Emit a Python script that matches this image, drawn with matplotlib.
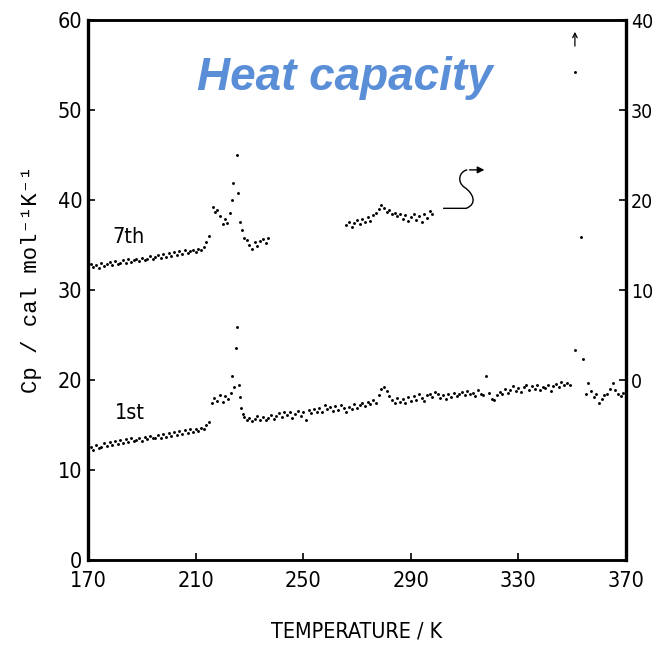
import numpy as np
import matplotlib
matplotlib.use("Agg")
import matplotlib.pyplot as plt
from matplotlib import font_manager as fm
from matplotlib.path import Path
from matplotlib.patches import PathPatch

# ---- data ----
# 1st run (left axis)
t1_low = np.arange(170, 216)
cp1_low = [12.0, 12.5, 12.2, 12.8, 12.4, 12.6, 13.0, 12.7, 13.1, 12.8,
           13.2, 12.9, 13.3, 13.0, 13.4, 13.1, 13.5, 13.2, 13.3, 13.6,
           13.2, 13.7, 13.4, 13.8, 13.5, 13.6, 13.9, 13.6, 14.0, 13.7,
           14.1, 13.8, 14.2, 13.9, 14.3, 14.0, 14.4, 14.1, 14.5, 14.2,
           14.6, 14.3, 14.7, 14.5, 15.0, 15.3]
t1_peak = [216, 217, 218, 219, 220, 221, 222, 223, 223.5, 224.2,
           225, 225.4, 226, 226.5, 227, 227.6]
cp1_peak = [17.5, 18.0, 17.7, 18.3, 17.6, 18.2, 17.9, 18.6, 20.5, 19.2,
            23.6, 25.9, 19.4, 18.1, 16.9, 16.2]
t1_high = np.arange(228, 350)
cp1_high = [15.9, 15.5, 15.8, 15.4, 15.7, 16.0, 15.6, 15.9, 15.5, 15.8, 16.1, 15.7, 16.0,
            16.3, 15.9, 16.4, 16.1, 16.5, 15.8, 16.2, 16.6, 16.0, 16.4, 15.6, 16.7, 16.3, 16.8, 16.5,
            16.9, 16.5, 17.2, 16.8, 17.0, 16.6, 17.1, 16.7, 17.2, 16.9, 16.5, 17.0, 16.8, 17.3, 16.9,
            17.2, 17.5, 17.1, 17.6, 17.3, 17.8, 17.5, 18.3, 19.0,
            19.2, 18.8, 18.2, 17.8, 17.5, 18.0, 17.6, 17.9, 17.4, 18.1, 17.7,
            18.2, 17.8, 18.4, 18.0, 17.7, 18.3, 18.5, 18.1, 18.7, 18.4,
            18.0, 18.3, 17.9, 18.4, 18.1, 18.6, 18.2, 18.5, 18.7, 18.3,
            18.8, 18.4, 18.6, 18.2, 18.9, 18.5, 18.3, 20.4, 18.6, 17.9,
            17.8, 18.3, 18.7, 18.4, 19.0, 18.6, 18.9, 19.3, 18.8, 19.1, 18.7, 19.2, 19.4, 18.9, 19.3,
            19.0, 19.4, 18.9, 19.2, 19.1, 19.5, 18.8, 19.3, 19.6, 19.2, 19.8, 19.4, 19.7, 19.5]
t1_end = [351, 354, 355, 356, 357, 358, 359, 360, 361, 362, 363, 364,
          365, 366, 367, 368, 369, 370]
cp1_end = [23.3, 22.3, 18.5, 19.7, 18.8, 18.1, 18.4, 17.4, 17.9, 18.3,
           18.5, 19.0, 19.7, 18.9, 18.5, 18.2, 18.6, 18.8]

# 7th run (right axis)
t7_low = np.arange(170, 216)
cp7_low = [12.4, 12.9, 12.6, 12.8, 12.5, 13.0, 12.7, 12.9, 13.1, 12.8,
           13.2, 12.9, 13.0, 13.3, 13.0, 13.4, 13.1, 13.3, 13.5, 13.2,
           13.6, 13.3, 13.5, 13.8, 13.4, 13.7, 13.9, 13.6, 14.0, 13.7,
           14.1, 13.8, 14.2, 13.9, 14.3, 14.0, 14.4, 14.1, 14.3, 14.5,
           14.2, 14.6, 14.4, 14.8, 15.3, 16.0]
t7_peak = [216.5, 217.2, 218, 219, 220, 221, 221.8, 222.6, 223.5, 224,
           225.4, 225.8, 226.5, 227.3, 228, 229, 230, 231, 232, 233,
           234, 235, 236, 237]
cp7_peak = [19.2, 18.7, 18.9, 18.2, 17.3, 17.9, 17.5, 18.6, 20.0, 21.9,
            25.0, 20.8, 17.6, 16.7, 15.8, 15.6, 15.0, 14.6, 15.3, 14.9,
            15.5, 15.7, 15.2, 15.8]
t7_mid = np.arange(266, 299)
cp7_mid = [17.2, 17.6, 17.0, 17.5, 17.8, 17.3, 17.9, 17.6, 18.1, 17.7,
           18.3, 18.6, 19.0, 19.4, 19.1, 18.7, 18.9, 18.4, 18.6, 18.2,
           18.5, 17.9, 18.3, 17.7, 18.1, 18.4, 17.8, 18.2, 17.6, 18.5,
           18.0, 18.8, 18.4]
t7_stray = [351, 353.3]
cp7_stray = [34.2, 15.9]

xticks = [170, 210, 250, 290, 330, 370]
yticks_left = [0, 10, 20, 30, 40, 50, 60]
yticks_right = [0, 10, 20, 30, 40]


def narrow_font(size):
    # pick a condensed sans if the system has one, plotter labels are narrow
    files = fm.findSystemFonts()
    for key in ['LiberationSansNarrow-Regular', 'DejaVuSansCondensed.ttf']:
        for f in files:
            if f.endswith(key + '.ttf') or f.endswith(key):
                return fm.FontProperties(fname=f, size=size)
    return fm.FontProperties(family='Liberation Sans', size=size - 2)


mono = ['Liberation Mono', 'DejaVu Sans Mono']

fig = plt.figure(figsize=(6.54, 6.47), dpi=100)
ax = fig.add_axes([0.1346, 0.1345, 0.8226, 0.8345])
ax2 = ax.twinx()

t1 = np.concatenate([t1_low, t1_peak, t1_high, t1_end])
cp1 = np.concatenate([cp1_low, cp1_peak, cp1_high, cp1_end])
t7 = np.concatenate([t7_low, t7_peak, t7_mid, t7_stray])
cp7 = np.concatenate([cp7_low, cp7_peak, cp7_mid, cp7_stray])

ax.plot(t1, cp1, 'o', color='black', ms=2.1, mew=0)
ax2.plot(t7, cp7, 'o', color='black', ms=2.1, mew=0)

ax.set_xlim(170, 370)
ax.set_ylim(0, 60)
ax2.set_ylim(-20, 40)

fp = narrow_font(15.5)
fp_r = narrow_font(14)
ax.set_xticks(xticks)
ax.set_yticks(yticks_left)
ax2.set_yticks(yticks_right)
ax.set_xticklabels([str(v) for v in xticks], fontproperties=fp)
ax.set_yticklabels([str(v) for v in yticks_left], fontproperties=fp)
ax2.set_yticklabels([str(v) for v in yticks_right], fontproperties=fp_r)

ax.tick_params(axis='both', direction='in', length=5, width=1.2, pad=8)
ax2.tick_params(axis='y', direction='in', length=5, width=1.2, pad=3.5)
ax.tick_params(axis='y', pad=4)

for a in (ax, ax2):
    for s in a.spines.values():
        s.set_linewidth(1.8)
ax.spines['left'].set_linewidth(2.4)
ax2.spines['right'].set_linewidth(2.4)

ax.set_xlabel('TEMPERATURE / K', fontproperties=fp, labelpad=22)
ax.set_ylabel('Cp / cal mol\u207b\u00b9K\u207b\u00b9', family=mono, fontsize=16)
ax.yaxis.set_label_coords(-0.085, 0.52)

ax.text(185, 35.9, '7th', fontproperties=fp, ha='center', va='center')
ax.text(185.6, 16.3, '1st', fontproperties=fp, ha='center', va='center')

ax.text(0.478, 0.893, 'Heat capacity', transform=ax.transAxes, ha='center', va='center',
        fontsize=33, fontweight='bold', fontstyle='italic', color='#5a8fd8',
        family=['Liberation Sans', 'DejaVu Sans'])

# squiggle arrow: 7th run goes off scale
verts = [(0.660, 0.6513), (0.703, 0.6513),
         (0.725, 0.660), (0.715, 0.680), (0.700, 0.690),
         (0.685, 0.700), (0.690, 0.720), (0.705, 0.7225)]
codes = [Path.MOVETO, Path.LINETO,
         Path.CURVE4, Path.CURVE4, Path.CURVE4,
         Path.CURVE4, Path.CURVE4, Path.CURVE4]
ax.add_patch(PathPatch(Path(verts, codes), transform=ax.transAxes, fill=False,
                       lw=1.0, color='black'))
ax.annotate('', xy=(0.742, 0.7225), xytext=(0.704, 0.7225), xycoords='axes fraction',
            arrowprops=dict(arrowstyle='-|>', lw=1.0, color='black', mutation_scale=10))
# up arrow for the off-scale point
ax2.annotate('', xy=(351, 39.0), xytext=(351, 36.8),
             arrowprops=dict(arrowstyle='->', lw=0.9, color='black', mutation_scale=8))

fig.savefig('out.png', dpi=100)
